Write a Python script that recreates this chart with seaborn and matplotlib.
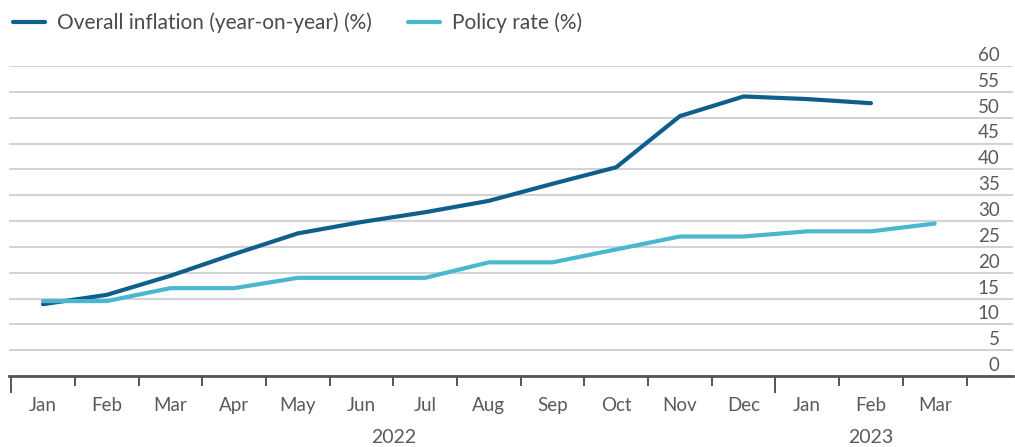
import matplotlib
matplotlib.use("Agg")
import matplotlib.pyplot as plt
import matplotlib.transforms as mtransforms
from matplotlib.lines import Line2D
import numpy as np
import pandas as pd
import seaborn as sns

# Monthly series, Jan 2022 - Mar 2023
months = ["Jan", "Feb", "Mar", "Apr", "May", "Jun", "Jul", "Aug", "Sep",
          "Oct", "Nov", "Dec", "Jan", "Feb", "Mar"]
years = ["2022", "2023"]
inflation = [13.9, 15.7, 19.4, 23.6, 27.6, 29.8, 31.7, 33.9, 37.2, 40.4,
             50.3, 54.1, 53.6, 52.8]
policy_rate = [14.5, 14.5, 17.0, 17.0, 19.0, 19.0, 19.0, 22.0, 22.0, 24.5,
               27.0, 27.0, 28.0, 28.0, 29.5]
series_names = ["Overall inflation (year-on-year) (%)", "Policy rate (%)"]
y_ticks = list(range(0, 61, 5))

df = pd.concat([
    pd.DataFrame({"idx": np.arange(len(inflation)), "value": inflation,
                  "series": series_names[0]}),
    pd.DataFrame({"idx": np.arange(len(policy_rate)), "value": policy_rate,
                  "series": series_names[1]}),
], ignore_index=True)

sns.set_theme(style="white")
plt.rcParams["font.family"] = ["Lato", "DejaVu Sans"]

W, H = 1015, 447
fig = plt.figure(figsize=(W / 100, H / 100), dpi=100)
ax = fig.add_axes([9 / W, 71 / H, (1013 - 9) / W, (376 - 66) / H])

palette = {series_names[0]: "#0f5f8d", series_names[1]: "#4bb7cf"}
sns.lineplot(data=df, x="idx", y="value", hue="series", palette=palette,
             linewidth=3.0, sort=False, ax=ax, legend=False, zorder=3)

ax.set_xlim(-0.534, 15.23)
ax.set_ylim(0, 60)

# Horizontal gridlines
ax.set_yticks(y_ticks)
ax.yaxis.grid(True, color="#d2d3d6", linewidth=1.5)
ax.xaxis.grid(False)
ax.set_axisbelow(True)

# Y labels sit on the right, just above each gridline
ax.yaxis.tick_right()
ax.tick_params(axis="y", length=0, pad=-9.5, labelsize=13.5,
               labelcolor="#5a5a5a")
for lab in ax.get_yticklabels():
    lab.set_horizontalalignment("right")
    lab.set_verticalalignment("bottom")
    lab.set_transform(lab.get_transform() +
                      mtransforms.ScaledTranslation(0, 2 / 100, fig.dpi_scale_trans))

# X axis: boundary ticks between months, labels at month centers
bounds = np.arange(-0.5, len(months), 1.0)
ax.set_xticks(bounds)
ax.set_xticklabels([])
ax.set_xticks(np.arange(len(months)), minor=True)
ax.set_xticklabels(months, minor=True)
ax.tick_params(axis="x", which="major", bottom=True, length=7.5, width=1.4,
               color="#555555", direction="out")
ax.tick_params(axis="x", which="minor", bottom=True, length=0, pad=15,
               labelsize=13.5, labelcolor="#5a5a5a")
# Longer ticks at the start of each year
for t, tick in zip(bounds, ax.xaxis.get_major_ticks()):
    if t in (-0.5, 11.5):
        tick.tick1line.set_markersize(12.5)

for side in ("top", "left", "right"):
    ax.spines[side].set_visible(False)
ax.spines["bottom"].set_color("#555555")
ax.spines["bottom"].set_linewidth(2)
ax.set_xlabel("")
ax.set_ylabel("")

# Year labels below the months, centred under their months
trans = mtransforms.blended_transform_factory(ax.transData, ax.transAxes)
ax.text(5.5, -0.197, years[0], transform=trans, ha="center", va="center",
        fontsize=14, color="#5a5a5a")
ax.text(13.0, -0.197, years[1], transform=trans, ha="center", va="center",
        fontsize=14, color="#5a5a5a")

# Legend across the top
handles = [Line2D([], [], color=palette[n], linewidth=3.0) for n in series_names]
fig.legend(handles, series_names, loc="upper left",
           bbox_to_anchor=(0.0, 1.0), ncol=2, frameon=False,
           fontsize=15, labelcolor="#4a4a4a", handlelength=1.55,
           handletextpad=0.6, columnspacing=1.7, borderaxespad=0.2)

fig.savefig("out.png", dpi=100)
